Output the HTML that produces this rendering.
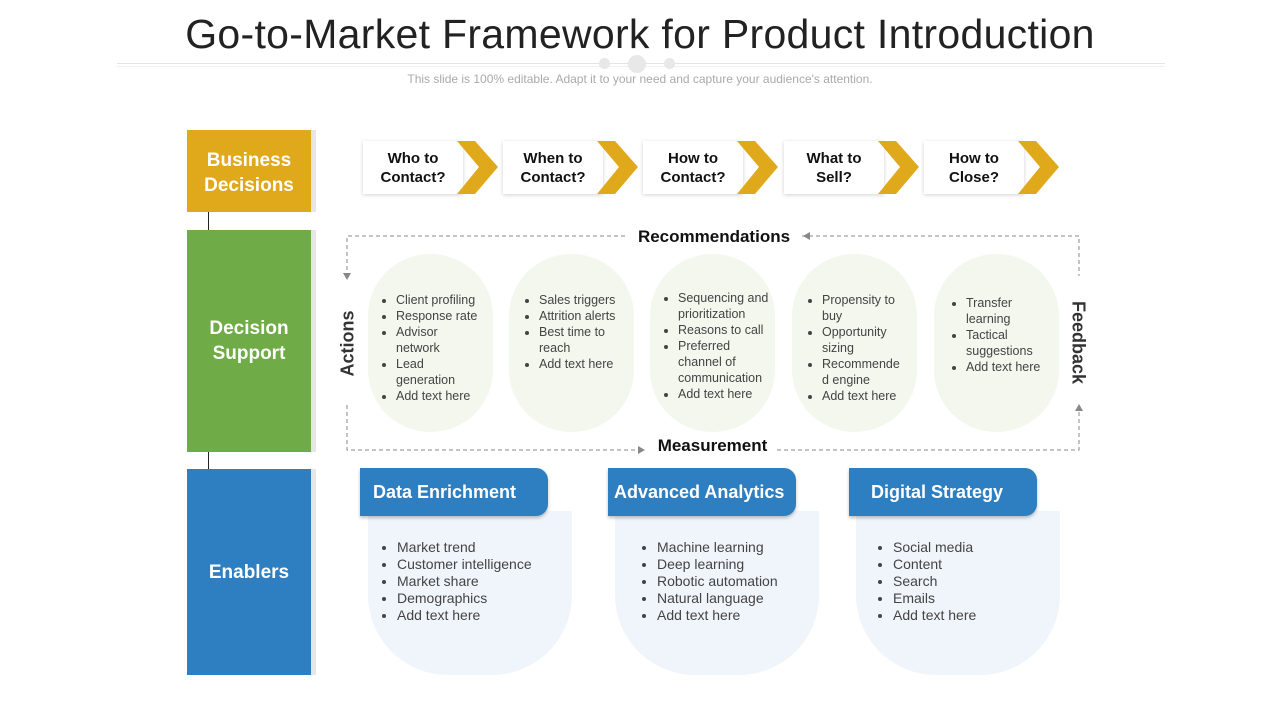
<!DOCTYPE html>
<html><head><style>
body{margin:0;width:1280px;height:720px;background:#fff;font-family:"Liberation Sans",Arial,sans-serif;position:relative;overflow:hidden}
.a{position:absolute}
.bar{position:absolute;left:187px;width:124px;color:#fff;font-weight:bold;font-size:19px;display:flex;align-items:center;justify-content:center;text-align:center;line-height:25px;box-shadow:5px 0 0 #e6e6e6}
.box{position:absolute;top:141px;width:100px;height:53px;background:#fff;box-shadow:0 1px 4px rgba(0,0,0,.18);font-weight:bold;font-size:15px;text-align:center;line-height:19px;display:flex;align-items:center;justify-content:center;color:#111}
.pill{position:absolute;top:254px;width:125px;height:178px;background:#f3f7ee;border-radius:62px;font-size:12.5px;color:#444;box-sizing:border-box}
.pill ul,.card ul{margin:0;padding-left:18px}
.pill li{line-height:16px}
.hd{position:absolute;top:468px;width:188px;height:48px;background:#2e7fc1;color:#fff;font-weight:bold;font-size:18px;border-radius:0 12px 12px 0;display:flex;align-items:center;box-shadow:0 2px 3px rgba(0,0,0,.25)}
.card{position:absolute;top:511px;width:204px;height:164px;background:#eff5fb;border-radius:0 0 80px 80px;font-size:14px;color:#444;box-sizing:border-box;padding-top:28px}
.card li{line-height:17px}
</style></head><body>
<div class="a" style="left:0;width:1280px;top:11px;text-align:center;font-size:41px;color:#222;letter-spacing:0.3px">Go-to-Market Framework for Product Introduction</div>
<div class="a" style="left:117px;width:1048px;top:63px;height:1px;background:#e4e4e4"></div>
<div class="a" style="left:117px;width:1048px;top:66px;height:1px;background:#f0f0f0"></div>
<div class="a" style="left:599px;top:58px;width:11px;height:11px;border-radius:50%;background:#e8e8e8"></div>
<div class="a" style="left:628px;top:55px;width:18px;height:18px;border-radius:50%;background:#e8e8e8"></div>
<div class="a" style="left:664px;top:58px;width:11px;height:11px;border-radius:50%;background:#e8e8e8"></div>
<div class="a" style="left:0;width:1280px;top:72px;text-align:center;font-size:12px;color:#aaa">This slide is 100% editable. Adapt it to your need and capture your audience's attention.</div>

<div class="a" style="left:208px;top:212px;width:1px;height:18px;background:#222"></div>
<div class="a" style="left:208px;top:452px;width:1px;height:17px;background:#222"></div>
<div class="bar" style="top:130px;height:82px;background:#e0a91b;padding-top:4px;box-sizing:border-box">Business<br>Decisions</div>
<div class="bar" style="top:230px;height:222px;background:#6fab46">Decision<br>Support</div>
<div class="bar" style="top:469px;height:206px;background:#2e7fc1">Enablers</div>

<div class="box" style="left:363px">Who to<br>Contact?</div>
<div class="box" style="left:503px">When to<br>Contact?</div>
<div class="box" style="left:643px">How to<br>Contact?</div>
<div class="box" style="left:784px">What to<br>Sell?</div>
<div class="box" style="left:924px">How to<br>Close?</div>
<svg class="a" style="left:0;top:0" width="1280" height="720">
<g fill="#e0a91b">
<polygon points="457,141 475,141 498,167 475,194 457,194 479,167"/>
<polygon points="597,141 615,141 638,167 615,194 597,194 619,167"/>
<polygon points="737,141 755,141 778,167 755,194 737,194 759,167"/>
<polygon points="878,141 896,141 919,167 896,194 878,194 900,167"/>
<polygon points="1018,141 1036,141 1059,167 1036,194 1018,194 1040,167"/>
</g>
<g stroke="#888" stroke-dasharray="4,3" fill="none" stroke-width="1">
<polyline points="625,236 347,236 347,276"/>
<polyline points="802,236 1079,236 1079,276"/>
<polyline points="347,405 347,450 645,450"/>
<polyline points="777,450 1079,450 1079,410"/>
</g>
<g fill="#888">
<polygon points="343,273 351,273 347,280"/>
<polygon points="810,232 810,240 803,236"/>
<polygon points="638,446 638,454 645,450"/>
<polygon points="1075,411 1083,411 1079,404"/>
</g>
</svg>
<div class="a" style="left:620px;width:188px;top:227px;text-align:center;font-weight:bold;font-size:17px;color:#111">Recommendations</div>
<div class="a" style="left:640px;width:145px;top:436px;text-align:center;font-weight:bold;font-size:17px;color:#111">Measurement</div>
<div class="a" style="left:298px;top:333px;width:100px;text-align:center;font-weight:bold;font-size:18px;color:#333;transform:rotate(-90deg)">Actions</div>
<div class="a" style="left:1028px;top:332px;width:100px;text-align:center;font-weight:bold;font-size:18px;color:#333;transform:rotate(90deg)">Feedback</div>

<div class="pill" style="left:368px;padding:38px 13px 0 10px"><ul><li>Client profiling</li><li>Response rate</li><li>Advisor network</li><li>Lead generation</li><li>Add text here</li></ul></div>
<div class="pill" style="left:509px;padding:38px 8px 0 12px"><ul><li>Sales triggers</li><li>Attrition alerts</li><li>Best time to reach</li><li>Add text here</li></ul></div>
<div class="pill" style="left:650px;padding:36px 2px 0 10px"><ul><li>Sequencing and prioritization</li><li>Reasons to call</li><li>Preferred channel of communication</li><li>Add text here</li></ul></div>
<div class="pill" style="left:792px;padding:38px 10px 0 12px"><ul><li>Propensity to buy</li><li>Opportunity sizing</li><li>Recommende d engine</li><li>Add text here</li></ul></div>
<div class="pill" style="left:934px;padding:41px 10px 0 14px"><ul><li>Transfer learning</li><li>Tactical suggestions</li><li>Add text here</li></ul></div>

<div class="card" style="left:368px;padding-left:11px"><ul><li>Market trend</li><li>Customer intelligence</li><li>Market share</li><li>Demographics</li><li>Add text here</li></ul></div>
<div class="card" style="left:615px;padding-left:24px"><ul><li>Machine learning</li><li>Deep learning</li><li>Robotic automation</li><li>Natural language</li><li>Add text here</li></ul></div>
<div class="card" style="left:856px;padding-left:19px"><ul><li>Social media</li><li>Content</li><li>Search</li><li>Emails</li><li>Add text here</li></ul></div>
<div class="hd" style="left:360px;padding-left:13px;box-sizing:border-box">Data Enrichment</div>
<div class="hd" style="left:608px;padding-left:6px;box-sizing:border-box">Advanced Analytics</div>
<div class="hd" style="left:849px;padding-left:22px;box-sizing:border-box">Digital Strategy</div>
</body></html>
